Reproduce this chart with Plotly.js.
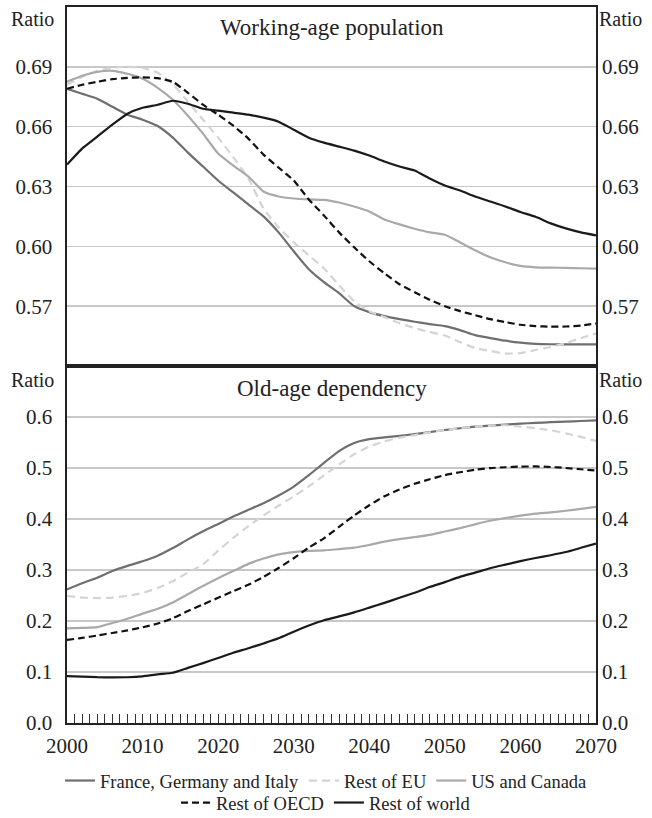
<!DOCTYPE html>
<html>
<head>
<meta charset="utf-8">
<script src="https://cdn.plot.ly/plotly-3.0.1.min.js"></script>
<style>
html,body{margin:0;padding:0;background:#fff;}
#chart{width:652px;height:818px;}
#fontprime{position:absolute;left:300px;top:400px;font-family:'Liberation Serif';font-size:2px;color:rgba(255,255,255,0);white-space:nowrap;z-index:-1;}
</style>
</head>
<body>
<div id="fontprime">Ratio 0.69</div>
<div id="chart"></div>
<script>
const years = [2000,2002,2004,2006,2008,2010,2012,2014,2016,2018,2020,2022,2024,2026,2028,2030,2032,2034,2036,2038,2040,2042,2044,2046,2048,2050,2052,2054,2056,2058,2060,2062,2064,2066,2068,2070];

const seriesNames = ["France, Germany and Italy", "Rest of EU", "US and Canada", "Rest of OECD", "Rest of world"];

// Working-age population (ratio)
const wapFGI   = [0.679,0.6765,0.674,0.670,0.666,0.6635,0.6603,0.6545,0.647,0.640,0.633,0.627,0.621,0.615,0.607,0.5975,0.5885,0.582,0.5765,0.570,0.567,0.565,0.5635,0.5622,0.561,0.560,0.558,0.5555,0.554,0.5527,0.5517,0.5511,0.5509,0.5508,0.5508,0.5508];
const wapREU   = [0.681,0.685,0.688,0.6895,0.690,0.6895,0.687,0.6813,0.6725,0.6635,0.6545,0.6447,0.634,0.619,0.6095,0.602,0.5955,0.589,0.5805,0.5725,0.5675,0.5645,0.5615,0.559,0.557,0.5553,0.552,0.549,0.5475,0.5462,0.5465,0.548,0.5495,0.5515,0.554,0.5563];
const wapUSC   = [0.6825,0.6855,0.6875,0.688,0.6865,0.684,0.6795,0.6735,0.6655,0.6565,0.6465,0.6405,0.635,0.6275,0.625,0.624,0.6235,0.6233,0.622,0.620,0.6175,0.6135,0.611,0.6088,0.607,0.6058,0.602,0.598,0.5945,0.592,0.5902,0.5895,0.5893,0.5892,0.589,0.5888];
const wapOECD  = [0.679,0.681,0.6825,0.6838,0.6845,0.6847,0.6843,0.6825,0.677,0.671,0.666,0.6605,0.654,0.646,0.6395,0.633,0.6235,0.6155,0.607,0.5995,0.5925,0.5865,0.581,0.577,0.5732,0.570,0.5675,0.5655,0.5635,0.562,0.5607,0.560,0.5597,0.5598,0.5603,0.5613];
const wapRoW   = [0.641,0.649,0.655,0.661,0.6665,0.6695,0.671,0.673,0.6715,0.669,0.668,0.667,0.666,0.6645,0.6625,0.6585,0.6545,0.652,0.650,0.648,0.6455,0.6425,0.640,0.638,0.634,0.6305,0.628,0.625,0.6225,0.620,0.6172,0.6148,0.6115,0.609,0.607,0.6055];

// Old-age dependency (ratio)
const oadFGI   = [0.262,0.274,0.285,0.298,0.308,0.317,0.328,0.343,0.360,0.376,0.390,0.405,0.418,0.431,0.446,0.4636,0.486,0.510,0.533,0.549,0.5565,0.560,0.563,0.5665,0.5705,0.5745,0.578,0.581,0.583,0.585,0.587,0.5885,0.5898,0.591,0.5922,0.5935];
const oadREU   = [0.249,0.246,0.245,0.246,0.2495,0.255,0.265,0.278,0.295,0.311,0.338,0.363,0.386,0.407,0.426,0.4442,0.464,0.4855,0.507,0.527,0.542,0.552,0.5595,0.5645,0.570,0.5745,0.578,0.581,0.583,0.5838,0.581,0.578,0.574,0.568,0.561,0.553];
const oadUSC   = [0.1855,0.1865,0.188,0.196,0.2045,0.2145,0.224,0.2365,0.2525,0.2688,0.284,0.298,0.312,0.3225,0.3305,0.335,0.3375,0.3385,0.341,0.3438,0.349,0.3555,0.3605,0.3645,0.369,0.3755,0.382,0.3895,0.3965,0.402,0.4065,0.4105,0.413,0.4162,0.4198,0.4236];
const oadOECD  = [0.163,0.1668,0.1715,0.1765,0.1815,0.1877,0.195,0.2055,0.2195,0.2325,0.2455,0.2585,0.271,0.2865,0.304,0.323,0.344,0.362,0.3845,0.4067,0.427,0.4445,0.458,0.469,0.478,0.486,0.4917,0.4965,0.4998,0.5015,0.5027,0.503,0.502,0.500,0.4975,0.4949];
const oadRoW   = [0.0918,0.091,0.0898,0.0895,0.0897,0.0915,0.0955,0.0985,0.108,0.1175,0.1275,0.1377,0.1465,0.156,0.166,0.179,0.191,0.2015,0.209,0.217,0.2262,0.2355,0.2455,0.2555,0.2665,0.2762,0.2865,0.2948,0.3035,0.3105,0.3175,0.3235,0.329,0.3352,0.3435,0.3516];

const topTicks = [0.57,0.60,0.63,0.66,0.69];
const topTickText = ["0.57","0.60","0.63","0.66","0.69"];
const botTicks = [0,0.1,0.2,0.3,0.4,0.5,0.6];
const botTickText = ["0.0","0.1","0.2","0.3","0.4","0.5","0.6"];
const xTicks = [2000,2010,2020,2030,2040,2050,2060,2070];

const styles = [
  {color:'#6f6f6f', width:2.2, dash:'solid'},
  {color:'#d4d4d4', width:2.2, dash:'8px,5px'},
  {color:'#a9a9a9', width:2.2, dash:'solid'},
  {color:'#111111', width:2.2, dash:'7px,4px'},
  {color:'#1a1a1a', width:2.2, dash:'solid'}
];
const legendOf = ['legend','legend','legend','legend2','legend2'];

const wap = [wapFGI, wapREU, wapUSC, wapOECD, wapRoW];
const oad = [oadFGI, oadREU, oadUSC, oadOECD, oadRoW];

const FONT = 'Liberation Serif';
function fnt(size){ return {family:FONT, size:size, color:'#222'}; }

function buildTraces(){
  const traces = [];
  wap.forEach((vals,i)=>{
    traces.push({x:years, y:vals, xaxis:'x2', yaxis:'y2', type:'scatter', mode:'lines',
      name:seriesNames[i], legend:legendOf[i], showlegend:true,
      line:Object.assign({shape:'spline', smoothing:0.5}, styles[i]), hoverinfo:'skip'});
  });
  oad.forEach((vals,i)=>{
    traces.push({x:years, y:vals, xaxis:'x', yaxis:'y', type:'scatter', mode:'lines',
      name:seriesNames[i], showlegend:false,
      line:Object.assign({shape:'spline', smoothing:0.5}, styles[i]), hoverinfo:'skip'});
  });
  // invisible carriers for the right-hand axes
  traces.push({x:years, y:oadFGI, xaxis:'x', yaxis:'y3', mode:'lines', opacity:0, showlegend:false, hoverinfo:'skip', line:{width:0}});
  traces.push({x:years, y:wapFGI, xaxis:'x2', yaxis:'y4', mode:'lines', opacity:0, showlegend:false, hoverinfo:'skip', line:{width:0}});
  return traces;
}

const split = (723-366)/716;
const gridC = '#c8c8c8';

function buildLayout(){
  return {
    width:652, height:818,
    margin:{l:67, r:56, t:7, b:95},
    paper_bgcolor:'#fff', plot_bgcolor:'#fff',
    showlegend:true,
    legend:{orientation:'h', x:0.5, xanchor:'center', xref:'container', yref:'container', y:(818-762)/818, yanchor:'top',
      font:fnt(18.5), itemwidth:30, tracegroupgap:0, bgcolor:'rgba(0,0,0,0)'},
    legend2:{orientation:'h', x:0.5, xanchor:'center', xref:'container', yref:'container', y:(818-784)/818, yanchor:'top',
      font:fnt(18.5), itemwidth:30, tracegroupgap:0, bgcolor:'rgba(0,0,0,0)'},
    xaxis:{domain:[0,1], anchor:'y', range:[2000,2070], tickvals:xTicks,
      ticks:'inside', ticklen:9, tickwidth:1, tickcolor:'#333', tickfont:fnt(21), ticklabelstandoff:3,
      minor:{dtick:1, tick0:2000, ticks:'inside', ticklen:9, tickwidth:1, tickcolor:'#333', showgrid:false},
      showline:true, mirror:true, linecolor:'#222', linewidth:1.6, showgrid:false, zeroline:false},
    xaxis2:{domain:[0,1], anchor:'y2', matches:'x', range:[2000,2070], showticklabels:false, ticks:'',
      showline:true, mirror:true, linecolor:'#222', linewidth:1.6, showgrid:false, zeroline:false},
    yaxis:{domain:[0,split], anchor:'x', range:[0,0.7], tickvals:botTicks, ticktext:botTickText, tickfont:fnt(21),
      ticks:'', ticklabelstandoff:9, showgrid:true, gridcolor:gridC, gridwidth:1.5, showline:true, mirror:true,
      linecolor:'#222', linewidth:1.6, zeroline:false},
    yaxis2:{domain:[split,1], anchor:'x2', range:[0.54,0.72], tickvals:topTicks, ticktext:topTickText, tickfont:fnt(21),
      ticks:'', ticklabelstandoff:9, showgrid:true, gridcolor:gridC, gridwidth:1.5, showline:true, mirror:true,
      linecolor:'#222', linewidth:1.6, zeroline:false},
    yaxis3:{overlaying:'y', side:'right', anchor:'x', range:[0,0.7], tickvals:botTicks, ticktext:botTickText, tickfont:fnt(21),
      ticks:'', ticklabelstandoff:5, showgrid:false, showline:false, zeroline:false},
    yaxis4:{overlaying:'y2', side:'right', anchor:'x2', range:[0.54,0.72], tickvals:topTicks, ticktext:topTickText, tickfont:fnt(21),
      ticks:'', ticklabelstandoff:5, showgrid:false, showline:false, zeroline:false},
    annotations:[
      {text:'Working-age population', xref:'paper', yref:'paper', x:0.5, y:1-(27-7)/716, xanchor:'center', yanchor:'middle', showarrow:false, font:fnt(23)},
      {text:'Old-age dependency', xref:'paper', yref:'paper', x:0.5, y:(723-388)/716, xanchor:'center', yanchor:'middle', showarrow:false, font:fnt(23)},
      {text:'Ratio', xref:'paper', yref:'paper', x:-0.066, y:(723-19)/716, xanchor:'center', yanchor:'middle', showarrow:false, font:fnt(20)},
      {text:'Ratio', xref:'paper', yref:'paper', x:-0.066, y:(723-380)/716, xanchor:'center', yanchor:'middle', showarrow:false, font:fnt(20)},
      {text:'Ratio', xref:'paper', yref:'paper', x:1.047, y:(723-19)/716, xanchor:'center', yanchor:'middle', showarrow:false, font:fnt(20)},
      {text:'Ratio', xref:'paper', yref:'paper', x:1.047, y:(723-380)/716, xanchor:'center', yanchor:'middle', showarrow:false, font:fnt(20)}
    ]
  };
}

const config = {displayModeBar:false, staticPlot:true};
Plotly.newPlot('chart', buildTraces(), buildLayout(), config);
if (document.fonts && document.fonts.load) {
  document.fonts.load('20px "Liberation Serif"').then(function(){
    return Plotly.react('chart', buildTraces(), buildLayout(), config);
  }).then(function(){
    const p = document.getElementById('fontprime');
    if (p) p.remove();
  });
}
</script>
</body>
</html>
